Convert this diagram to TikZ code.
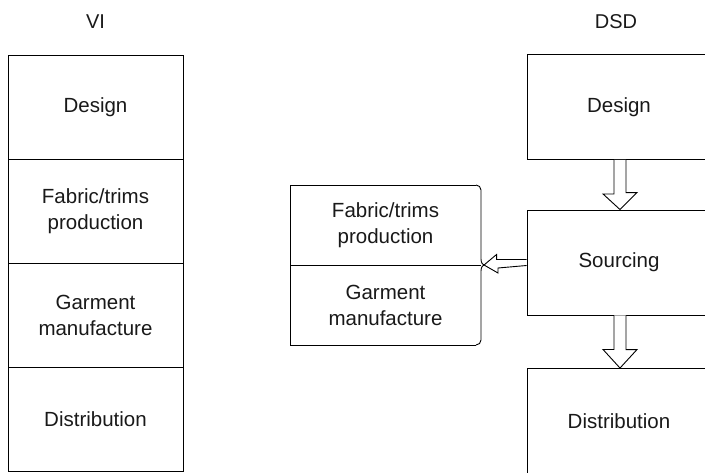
\documentclass[tikz,border=0pt]{standalone}
\usepackage{fontspec}
\setmainfont{Liberation Sans}
\usetikzlibrary{calc}
\begin{document}
\begin{tikzpicture}[x=1pt,y=-1pt,
  cell/.style={draw=black, line width=0.9pt, rectangle, inner sep=0pt, align=center,
    font=\fontsize{20.5}{26}\selectfont, text=black!90},
  vicell/.style={cell, minimum width=175pt, minimum height=104pt},
  dsdcell/.style={cell, minimum width=184pt, minimum height=105pt},
  midcell/.style={inner sep=0pt, align=center, font=\fontsize{20.5}{26}\selectfont, text=black!90,
    minimum width=191pt, minimum height=80pt},
  title/.style={font=\fontsize{20}{24}\selectfont, text=black!90},
  blockarrow/.style={draw=black, line width=0.9pt, fill=white, line join=miter}
]
\useasboundingbox (0,0) rectangle (705,472);

% VI column
\node[title] (vititle) at (95.5,22) {VI};
\node[vicell] (vi1) at (95.5,107.5) {Design};
\node[vicell] (vi2) at (95.5,211.5) {Fabric/trims\\production};
\node[vicell] (vi3) at (95.5,315.5) {Garment\\manufacture};
\node[vicell] (vi4) at (95.5,419.5) {Distribution};

% DSD column
\node[title] (dsdtitle) at (616,22) {DSD};
\node[dsdcell] (d1) at (619,107) {Design};
\node[dsdcell] (d2) at (619,262.5) {Sourcing};
\node[dsdcell] (d3) at (619,421) {Distribution};

% middle group
\node[midcell] (m1) at (385.5,225) {Fabric/trims\\production};
\node[midcell] (m2) at (385.5,305) {Garment\\manufacture};
\draw[line width=0.9pt] (476,185) -- (290,185) -- (290,345) -- (476,345);
\draw[line width=0.9pt] (290,265) -- (481,265);
\draw[line width=0.9pt] (476,185) arc[start angle=90,end angle=0,radius=5pt]
  -- (481,259) .. controls (481,263) and (483,265) .. (484,265) coordinate (brace)
  .. controls (483,265) and (481,267) .. (481,271)
  -- (481,340) arc[start angle=0,end angle=-90,radius=5pt];

% down arrows
\draw[blockarrow] ($(d1.south)+(-5,0)$) -- ++(0,34) -- ++(-11,0) -- ($(d2.north)+(1,0)$)
  -- ++(17,-17) -- ++(-11,0) -- ($(d1.south)+(7,0)$);
\draw[blockarrow] ($(d2.south)+(-5,0)$) -- ++(0,34) -- ++(-11,0) -- ($(d3.north)+(1,0)$)
  -- ++(17,-18.5) -- ++(-11,0) -- ($(d2.south)+(7,0)$);

% left arrow
\draw[blockarrow] ($(d2.west)+(0,-3)$) -- ++(-30,0) -- ++(0,-5) -- (brace)
  -- ++(14,8) -- ++(0,-5) -- ($(d2.west)+(0,3)$);
\end{tikzpicture}
\end{document}
